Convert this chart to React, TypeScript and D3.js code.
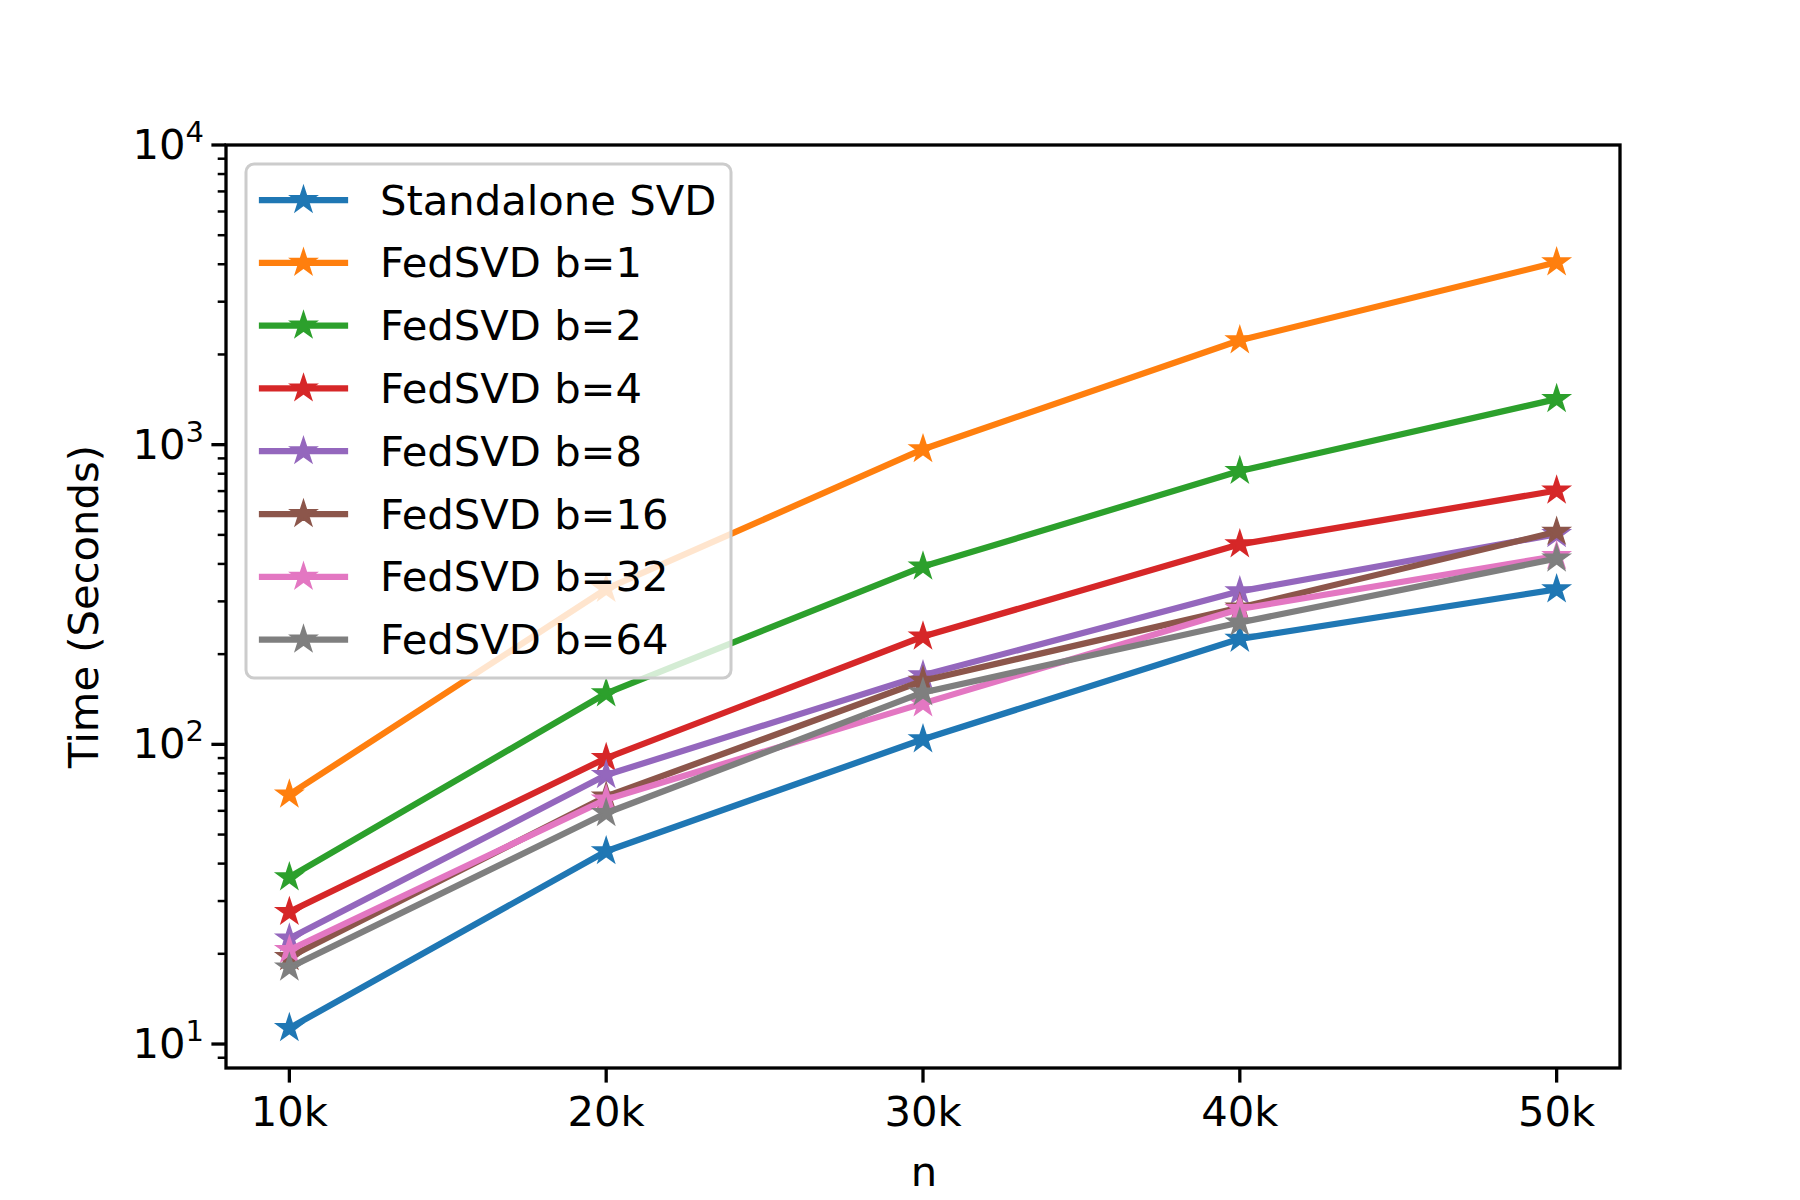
import * as d3 from "d3";

const nLabels = ["10k", "20k", "30k", "40k", "50k"];
const nValues = [10, 20, 30, 40, 50];

const seriesNames = [
  "Standalone SVD",
  "FedSVD b=1",
  "FedSVD b=2",
  "FedSVD b=4",
  "FedSVD b=8",
  "FedSVD b=16",
  "FedSVD b=32",
  "FedSVD b=64",
];
const seriesColors = ["#1f77b4", "#ff7f0e", "#2ca02c", "#d62728", "#9467bd", "#8c564b", "#e377c2", "#7f7f7f"];
const seriesValues = [
  [11.3, 44, 104, 225, 329],
  [68, 330, 966, 2230, 4060],
  [36, 148, 392, 817, 1420],
  [27.6, 90, 229, 465, 703],
  [22.5, 79, 170, 324, 503],
  [19.5, 67, 163, 286, 512],
  [20.6, 65.5, 137, 283, 425],
  [18, 59, 149, 255, 417],
];
const yMajor = [1, 2, 3, 4];

const W = 1800, H = 1200;
const L = 226, R = 1620, T = 145, B = 1068;
const FONT = "DejaVu Sans, sans-serif";

export default function App() {
  const x = d3.scaleLinear().domain([8, 52]).range([L, R]);
  const y = d3.scaleLog().domain([Math.pow(10, 0.92), 1e4]).range([B, T]);
  const line = d3.line<number>().x((_, i) => x(nValues[i])).y((v) => y(v));
  const star = d3.symbol(d3.symbolStar, 190)()!;
  const legendStar = star;

  const minor: number[] = [];
  for (let e = 0; e < 4; e++) for (let k = 2; k < 10; k++) {
    const v = k * Math.pow(10, e);
    if (v >= y.domain()[0] && v <= 1e4) minor.push(v);
  }

  return (
    <svg width={W} height={H} style={{ display: "block", margin: -8 }} fontFamily={FONT}>
      <rect width={W} height={H} fill="#fff" />
      {seriesValues.map((vals, s) => (
        <g key={s}>
          <path d={line(vals)!} fill="none" stroke={seriesColors[s]} strokeWidth={6.25} strokeLinejoin="round" strokeLinecap="square" />
          {vals.map((v, i) => (
            <path key={i} d={star} transform={`translate(${x(nValues[i])},${y(v)})`} fill={seriesColors[s]} stroke={seriesColors[s]} strokeWidth={2} />
          ))}
        </g>
      ))}
      <rect x={L} y={T} width={R - L} height={B - T} fill="none" stroke="#000" strokeWidth={3.3} />
      {nValues.map((v, i) => (
        <g key={i}>
          <line x1={x(v)} x2={x(v)} y1={B} y2={B + 14.6} stroke="#000" strokeWidth={3.3} />
          <text x={x(v)} y={B + 58} textAnchor="middle" fontSize={41.7}>{nLabels[i]}</text>
        </g>
      ))}
      {minor.map((v, i) => (
        <line key={i} x1={L - 8.3} x2={L} y1={y(v)} y2={y(v)} stroke="#000" strokeWidth={2.5} />
      ))}
      {yMajor.map((e) => (
        <g key={e}>
          <line x1={L - 14.6} x2={L} y1={y(Math.pow(10, e))} y2={y(Math.pow(10, e))} stroke="#000" strokeWidth={3.3} />
          <text x={L - 22} y={y(Math.pow(10, e)) + 14} textAnchor="end" fontSize={41.7}>
            10<tspan fontSize={29} dy={-17}>{e}</tspan>
          </text>
        </g>
      ))}
      <text x={W / 2 + 24} y={1186} textAnchor="middle" fontSize={41.7}>n</text>
      <text transform={`translate(98,${(T + B) / 2}) rotate(-90)`} textAnchor="middle" fontSize={41.7}>Time (Seconds)</text>
      <rect x={246} y={164} width={485} height={514} rx={8} fill="#fff" fillOpacity={0.8} stroke="#ccc" strokeWidth={3} />
      {seriesNames.map((name, s) => {
        const yy = 200 + s * 62.8;
        return (
          <g key={s}>
            <line x1={262} x2={345} y1={yy} y2={yy} stroke={seriesColors[s]} strokeWidth={6.25} strokeLinecap="square" />
            <path d={legendStar} transform={`translate(303.5,${yy})`} fill={seriesColors[s]} stroke={seriesColors[s]} strokeWidth={2} />
            <text x={380} y={yy + 14.5} fontSize={41.7}>{name}</text>
          </g>
        );
      })}
    </svg>
  );
}
